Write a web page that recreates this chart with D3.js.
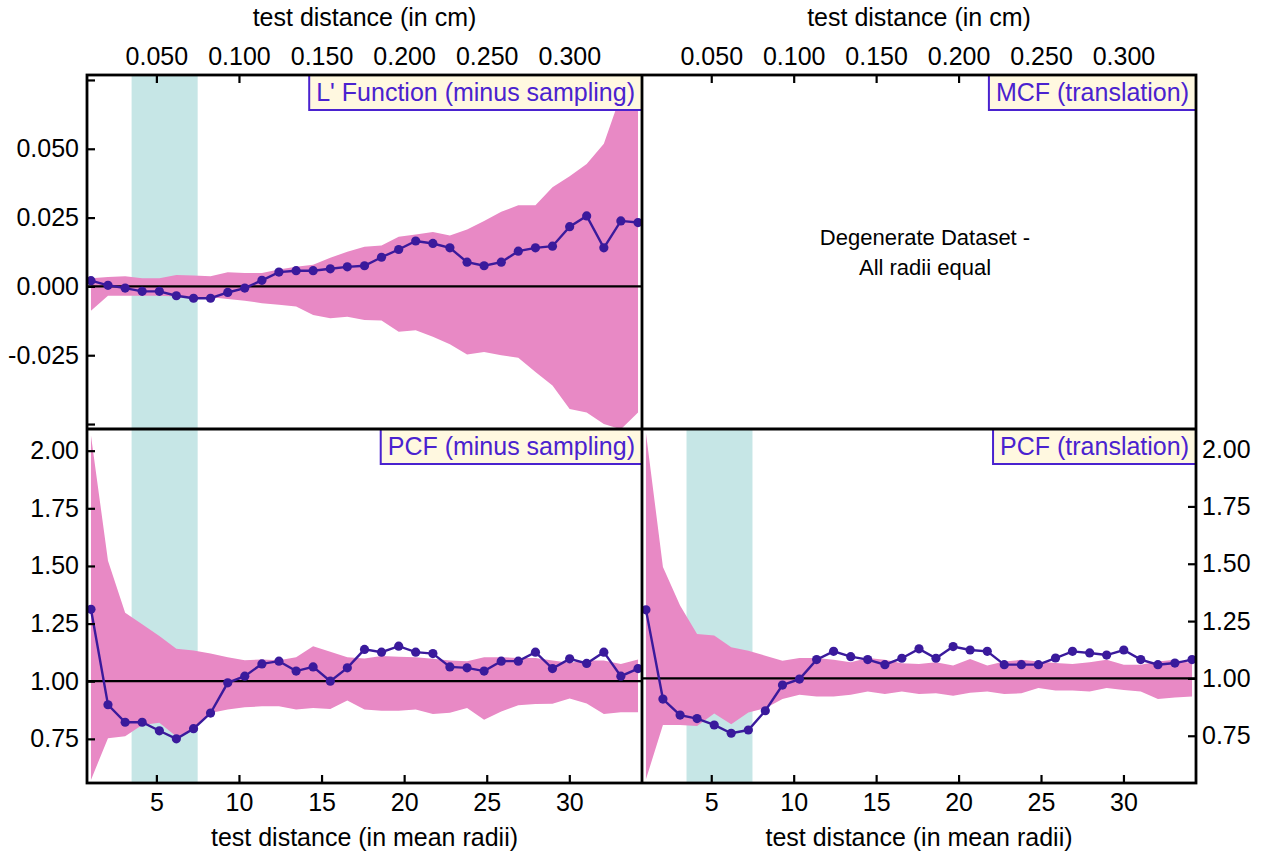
<!DOCTYPE html>
<html>
<head>
<meta charset="utf-8">
<script src="https://cdn.jsdelivr.net/npm/d3@7"></script>
<style>
  body { margin: 0; background: #fff; }
  text { font-family: "Liberation Sans", Arial, sans-serif; }
</style>
</head>
<body>
<svg id="chart" width="1265" height="853"></svg>
<script>
// test distance in mean radii (shared by all panels)
const dist = [1.04, 2.07, 3.11, 4.14, 5.18, 6.21, 7.25, 8.28, 9.32, 10.35, 11.39, 12.42, 13.46, 14.49, 15.53, 16.56, 17.6,
  18.63, 19.67, 20.7, 21.74, 22.77, 23.81, 24.84, 25.88, 26.91, 27.95, 28.98, 30.02, 31.05, 32.09, 33.12, 34.16];

// L' function (minus sampling)
const lObs = [0.0021, 0.0004, -0.0006, -0.0018, -0.0018, -0.0034, -0.0043, -0.0043, -0.0022, -0.0006, 0.0022, 0.0052, 0.0057,
  0.0057, 0.0064, 0.0071, 0.0075, 0.0106, 0.0134, 0.0165, 0.0156, 0.0140, 0.0088, 0.0075, 0.0088, 0.0128, 0.0140, 0.0146,
  0.0217, 0.0256, 0.0140, 0.0238, 0.0232];
const lHi = [0.0030, 0.0034, 0.0037, 0.0030, 0.0030, 0.0041, 0.0040, 0.0037, 0.0051, 0.0049, 0.0049, 0.0061, 0.0071, 0.0079,
  0.0104, 0.0126, 0.0144, 0.0149, 0.0180, 0.0189, 0.0198, 0.0185, 0.0207, 0.0238, 0.0271, 0.0295, 0.0295, 0.0360, 0.0400,
  0.0445, 0.0518, 0.0695, 0.0900];
const lLo = [-0.0088, -0.0034, -0.0034, -0.0034, -0.0034, -0.0037, -0.0043, -0.0039, -0.0046, -0.0052, -0.0061, -0.0067,
  -0.0073, -0.0104, -0.0116, -0.0110, -0.0122, -0.0124, -0.0165, -0.0159, -0.0183, -0.0210, -0.0247, -0.0238, -0.0250,
  -0.0259, -0.0311, -0.0360, -0.0445, -0.0458, -0.0500, -0.0519, -0.0458];

// PCF (minus sampling)
const pcfM = [1.312, 0.898, 0.822, 0.822, 0.785, 0.750, 0.794, 0.862, 0.993, 1.022, 1.075, 1.087, 1.044, 1.062, 1.000, 1.058,
  1.138, 1.126, 1.152, 1.126, 1.120, 1.062, 1.058, 1.044, 1.087, 1.087, 1.126, 1.055, 1.097, 1.077, 1.126, 1.022, 1.055];
const pcfMHi = [2.066, 1.522, 1.297, 1.247, 1.196, 1.141, 1.133, 1.120, 1.104, 1.091, 1.094, 1.091, 1.104, 1.152, 1.128,
  1.104, 1.099, 1.109, 1.106, 1.104, 1.097, 1.090, 1.087, 1.104, 1.104, 1.101, 1.101, 1.090, 1.080, 1.090, 1.090, 1.075, 1.094];
const pcfMLo = [0.572, 0.753, 0.761, 0.810, 0.820, 0.760, 0.790, 0.862, 0.877, 0.887, 0.891, 0.891, 0.877, 0.884, 0.880,
  0.916, 0.877, 0.872, 0.872, 0.877, 0.858, 0.863, 0.884, 0.833, 0.869, 0.896, 0.901, 0.902, 0.925, 0.903, 0.858, 0.865, 0.865];

// PCF (translation)
const pcfT = [1.299, 0.910, 0.840, 0.825, 0.797, 0.761, 0.775, 0.859, 0.971, 0.997, 1.082, 1.118, 1.095, 1.082, 1.060, 1.088,
  1.129, 1.088, 1.139, 1.124, 1.118, 1.060, 1.060, 1.060, 1.089, 1.118, 1.111, 1.102, 1.124, 1.082, 1.060, 1.067, 1.082];
const pcfTHi = [2.070, 1.486, 1.318, 1.194, 1.187, 1.136, 1.121, 1.099, 1.077, 1.089, 1.089, 1.081, 1.070, 1.089, 1.081,
  1.066, 1.063, 1.070, 1.056, 1.085, 1.056, 1.074, 1.081, 1.074, 1.067, 1.063, 1.070, 1.081, 1.060, 1.060, 1.074, 1.081, 1.066];
const pcfTLo = [0.560, 0.797, 0.797, 0.793, 0.847, 0.800, 0.851, 0.870, 0.910, 0.929, 0.921, 0.921, 0.929, 0.943, 0.932,
  0.943, 0.932, 0.935, 0.924, 0.938, 0.943, 0.932, 0.935, 0.958, 0.947, 0.947, 0.943, 0.958, 0.950, 0.943, 0.910, 0.917, 0.921];

// ticks and labels
const radiiTicks = [5, 10, 15, 20, 25, 30];
const cmLabels = ["0.050", "0.100", "0.150", "0.200", "0.250", "0.300"];
const lTicks = [0.075, 0.050, 0.025, 0.000, -0.025, -0.050];
const lLabelled = [0.050, 0.025, 0.000, -0.025];
const pcfTicks = [2.00, 1.75, 1.50, 1.25, 1.00, 0.75];
const band = [3.5, 7.5];

const svg = d3.select("#chart");
const pink = "#e889c5", teal = "#c6e6e6", ink = "#3a1a9c", labelInk = "#4a22cf";
const fs = 25;

const colL = [87, 642], colR = [642, 1196];
const rowT = [75, 429], rowB = [429, 783];

const panels = [
  { id: "tl", col: colL, row: rowT, ydom: [-0.0518, 0.0768], obs: lObs, hi: lHi, lo: lLo, ref: 0,
    label: "L' Function (minus sampling)", band: true, yside: "left", xside: "top" },
  { id: "tr", col: colR, row: rowT, ydom: [-0.0518, 0.0768], obs: null, label: "MCF (translation)",
    band: false, yside: null, xside: "top" },
  { id: "bl", col: colL, row: rowB, ydom: [0.5585, 2.094], obs: pcfM, hi: pcfMHi, lo: pcfMLo, ref: 1,
    label: "PCF (minus sampling)", band: true, yside: "left", xside: "bottom" },
  { id: "br", col: colR, row: rowB, ydom: [0.544, 2.0876], obs: pcfT, hi: pcfTHi, lo: pcfTLo, ref: 1,
    label: "PCF (translation)", band: true, yside: "right", xside: "bottom" }
];

panels.forEach(p => {
  const x = d3.scaleLinear().domain([0.8, 34.4]).range(p.col);
  const y = d3.scaleLinear().domain(p.ydom).range([p.row[1], p.row[0]]);
  const g = svg.append("g");

  svg.append("clipPath").attr("id", "clip-" + p.id)
    .append("rect").attr("x", p.col[0]).attr("y", p.row[0])
    .attr("width", p.col[1] - p.col[0]).attr("height", p.row[1] - p.row[0]);
  const inner = g.append("g").attr("clip-path", `url(#clip-${p.id})`);

  if (p.band) {
    inner.append("rect")
      .attr("x", x(band[0])).attr("width", x(band[1]) - x(band[0]))
      .attr("y", p.row[0]).attr("height", p.row[1] - p.row[0])
      .attr("fill", teal);
  }

  if (p.obs) {
    const idx = d3.range(dist.length);
    inner.append("path")
      .datum(idx)
      .attr("fill", pink)
      .attr("d", d3.area().x(i => x(dist[i])).y0(i => y(p.lo[i])).y1(i => y(p.hi[i])));

    inner.append("line")
      .attr("x1", p.col[0]).attr("x2", p.col[1])
      .attr("y1", y(p.ref)).attr("y2", y(p.ref))
      .attr("stroke", "#000").attr("stroke-width", 2.2);

    inner.append("path")
      .datum(idx)
      .attr("fill", "none").attr("stroke", ink).attr("stroke-width", 2.4)
      .attr("d", d3.line().x(i => x(dist[i])).y(i => y(p.obs[i])));

    inner.selectAll("circle.pt").data(idx).join("circle")
      .attr("cx", i => x(dist[i])).attr("cy", i => y(p.obs[i]))
      .attr("r", 4.6).attr("fill", ink);
  } else {
    const cx = (p.col[0] + p.col[1]) / 2, cy = (p.row[0] + p.row[1]) / 2;
    g.append("text").attr("x", cx + 6).attr("y", cy - 7)
      .attr("text-anchor", "middle").attr("font-size", 22).text("Degenerate Dataset -");
    g.append("text").attr("x", cx + 6).attr("y", cy + 23)
      .attr("text-anchor", "middle").attr("font-size", 22).text("All radii equal");
  }

  // x axis (cm on top, mean radii on bottom)
  if (p.xside === "top") {
    const ax = d3.axisTop(x).tickValues(radiiTicks).tickSize(-8).tickPadding(10)
      .tickFormat((d, i) => cmLabels[i]);
    g.append("g").attr("transform", `translate(0,${p.row[0]})`).call(ax);
    g.append("text").attr("x", (p.col[0] + p.col[1]) / 2).attr("y", 26)
      .attr("text-anchor", "middle").attr("font-size", fs).text("test distance (in cm)");
  } else {
    const ax = d3.axisBottom(x).tickValues(radiiTicks).tickSize(-8).tickPadding(10);
    g.append("g").attr("transform", `translate(0,${p.row[1]})`).call(ax);
    g.append("text").attr("x", (p.col[0] + p.col[1]) / 2).attr("y", 846)
      .attr("text-anchor", "middle").attr("font-size", fs).text("test distance (in mean radii)");
  }

  // y axis
  if (p.yside === "left" && p.id === "tl") {
    const ay = d3.axisLeft(y).tickValues(lTicks).tickSize(-8).tickPadding(8)
      .tickFormat(d => lLabelled.includes(d) ? d.toFixed(3) : "");
    g.append("g").attr("transform", `translate(${p.col[0]},0)`).call(ay);
  } else if (p.yside === "left") {
    const ay = d3.axisLeft(y).tickValues(pcfTicks).tickSize(-8).tickPadding(8).tickFormat(d => d.toFixed(2));
    g.append("g").attr("transform", `translate(${p.col[0]},0)`).call(ay);
  } else if (p.yside === "right") {
    const ay = d3.axisRight(y).tickValues(pcfTicks).tickSize(-8).tickPadding(6).tickFormat(d => d.toFixed(2));
    g.append("g").attr("transform", `translate(${p.col[1]},0)`).call(ay);
  }

  // panel label box
  const lab = g.append("g");
  const t = lab.append("text").attr("font-size", fs).attr("fill", labelInk)
    .attr("text-anchor", "end").attr("x", p.col[1] - 7).attr("y", p.row[0] + 26).text(p.label);
  const w = t.node().getComputedTextLength() + 14;
  lab.insert("rect", "text")
    .attr("x", p.col[1] - w).attr("y", p.row[0]).attr("width", w).attr("height", 35)
    .attr("fill", "#fff8e0").attr("stroke", labelInk).attr("stroke-width", 2);
});

svg.selectAll(".domain").remove();
svg.selectAll(".tick line").attr("stroke", "#000").attr("stroke-width", 2.2);
svg.selectAll(".tick text").attr("font-size", fs).attr("fill", "#000")
  .attr("font-family", "'Liberation Sans', Arial, sans-serif");

// panel frames
const frame = svg.append("g").attr("stroke", "#000").attr("stroke-width", 2.8).attr("fill", "none");
frame.append("rect").attr("x", colL[0]).attr("y", rowT[0]).attr("width", colR[1] - colL[0]).attr("height", rowB[1] - rowT[0]);
frame.append("line").attr("x1", colL[1]).attr("x2", colL[1]).attr("y1", rowT[0]).attr("y2", rowB[1]);
frame.append("line").attr("x1", colL[0]).attr("x2", colR[1]).attr("y1", rowT[1]).attr("y2", rowT[1]);
</script>
</body>
</html>
